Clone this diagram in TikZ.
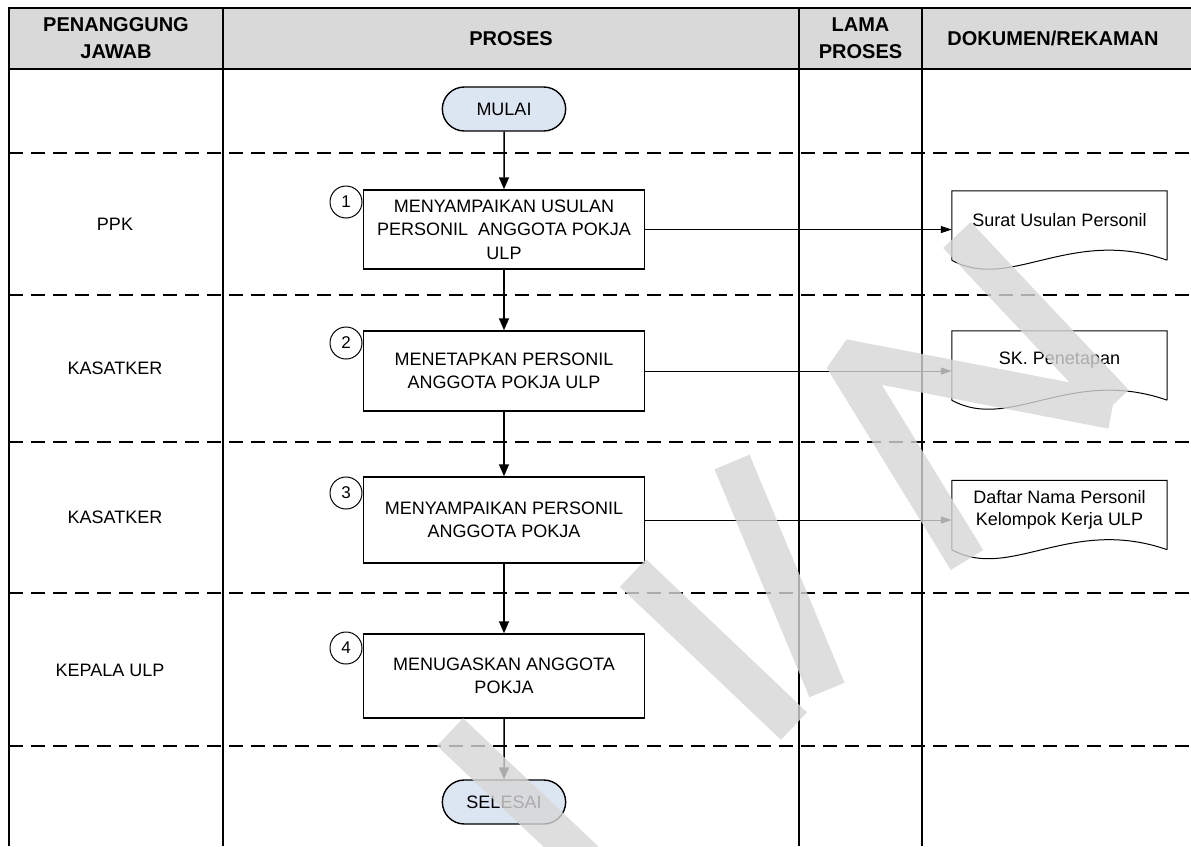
\documentclass[tikz,border=0pt]{standalone}
\usepackage{fontspec}
\setmainfont{Liberation Sans}
\usetikzlibrary{arrows.meta,calc,shapes.misc}
\definecolor{hdrc}{HTML}{D9D9D9}
\definecolor{termc}{HTML}{DCE6F2}
\definecolor{wmc}{HTML}{D6D6D6}
\begin{document}
\begin{tikzpicture}[x=1pt,y=-1pt,
  gridline/.style={line width=1.8pt,black},
  rowsep/.style={line width=1.6pt,dash pattern=on 14pt off 8pt},
  hdrtext/.style={font=\bfseries\fontsize{20}{27}\selectfont,align=center,inner sep=0pt},
  lbl/.style={font=\fontsize{18}{23}\selectfont,align=center,inner sep=0pt},
  proc/.style={draw,line width=1.5pt,minimum width=281pt,align=center,
    font=\fontsize{18}{23.5}\selectfont,inner sep=0pt},
  termnode/.style={draw,line width=1.4pt,rounded rectangle,fill=termc,
    minimum width=130pt,minimum height=44pt,font=\fontsize{18}{22}\selectfont},
  numc/.style={draw,circle,line width=1pt,minimum size=32pt,inner sep=0pt,
    fill=white,font=\fontsize{17}{17}\selectfont},
  flow/.style={line width=1.5pt,-{Triangle[length=12pt,width=10pt]}},
  docarr/.style={line width=1pt,-{Triangle[length=11pt,width=7pt]}},
  docbox/.style={minimum width=215pt,minimum height=69pt,inner sep=0pt},
  docline/.style={line width=1pt},
  doctext/.style={font=\fontsize{18}{22}\selectfont,align=center,inner sep=0pt},
  watermark/.style={wmc,line width=38pt,line cap=butt,line join=bevel,opacity=0.8}
]
\useasboundingbox (0,0) rectangle (1191,846);
% table
\fill[hdrc] (9,8) rectangle (1191,69);
\foreach \yy in {153,295,442,593,746}{\draw[rowsep] (9,\yy) -- (1191,\yy);}
\draw[gridline] (1191,8) -- (9,8) -- (9,846);
\draw[gridline] (9,69) -- (1191,69);
\draw[gridline] (223,8) -- (223,846);
\draw[gridline] (799,8) -- (799,846);
\draw[gridline] (922,8) -- (922,846);
% headers
\node[hdrtext] (h1) at (116,38.5) {PENANGGUNG\\JAWAB};
\node[hdrtext] (h2) at (511,38.5) {PROSES};
\node[hdrtext] (h3) at (860.5,38.5) {LAMA\\PROSES};
\node[hdrtext] (h4) at (1053,38.5) {DOKUMEN/REKAMAN};
% row labels
\node[lbl] (r1) at (115,224) {PPK};
\node[lbl] (r2) at (115,368) {KASATKER};
\node[lbl] (r3) at (115,517) {KASATKER};
\node[lbl] (r4) at (110,670) {KEPALA ULP};
% process
\node[termnode] (mulai) at (504,109) {MULAI};
\node[proc,minimum height=79pt] (b1) at (504,229.5) {MENYAMPAIKAN USULAN\\PERSONIL\ \ ANGGOTA POKJA\\ULP};
\node[proc,minimum height=80pt] (b2) at (504,371) {MENETAPKAN PERSONIL\\ANGGOTA POKJA ULP};
\node[proc,minimum height=86pt] (b3) at (504,520) {MENYAMPAIKAN PERSONIL\\ANGGOTA POKJA};
\node[proc,minimum height=84pt] (b4) at (504,676) {MENUGASKAN ANGGOTA\\POKJA};
\node[termnode] (selesai) at (504,802) {SELESAI};
\node[numc] (c1) at (346,202) {1};
\node[numc] (c2) at (346,343) {2};
\node[numc] (c3) at (346,493) {3};
\node[numc] (c4) at (346,648) {4};
\draw[flow] (mulai) -- (b1);
\draw[flow] (b1) -- (b2);
\draw[flow] (b2) -- (b3);
\draw[flow] (b3) -- (b4);
\draw[flow] (b4) -- (selesai);
% documents
\node[docbox] (d1) at (1059.5,225.5) {};
\node[docbox] (d2) at (1059.5,365.5) {};
\node[docbox] (d3) at (1059.5,515) {};
\foreach \d in {d1,d2,d3}{
  \draw[docline] (\d.south east) -- (\d.north east) -- (\d.north west) -- (\d.south west)
    .. controls ($(\d.south west)+(58,32)$) and ($(\d.south east)+(-97,-34)$) .. (\d.south east);
}
\node[doctext] (d1t) at ($(d1.center)+(0,-5.5)$) {Surat Usulan Personil};
\node[doctext] (d2t) at ($(d2.center)+(0,-5.5)$) {SK. Penetapan};
\node[doctext] (d3t) at ($(d3.center)+(0,-5)$) {Daftar Nama Personil\\Kelompok Kerja ULP};
\draw[docarr] (b1.east) -- (b1.east -| d1.west);
\draw[docarr] (b2.east) -- (b2.east -| d2.west);
\draw[docarr] (b3.east) -- (b3.east -| d3.west);
% watermark
\draw[watermark]
  (957,235) -- (1115,403)
  (967,560) -- (843,358) -- (1112,410)
  (732,462) -- (827,690)
  (633,573) -- (794,726)
  (450,732) -- (585,860);
\end{tikzpicture}
\end{document}
